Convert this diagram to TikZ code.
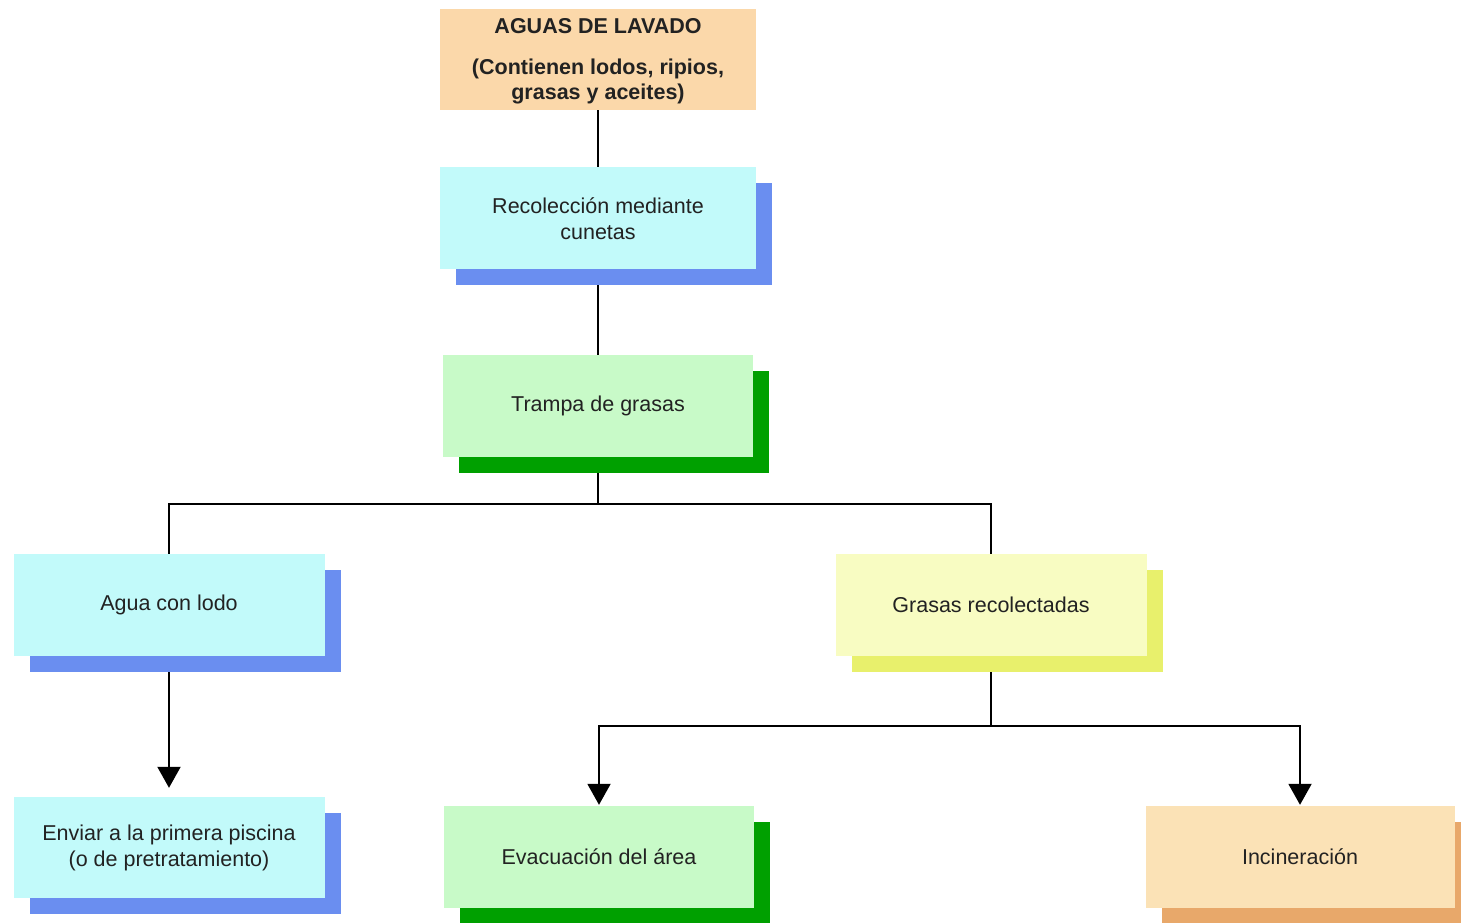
\documentclass[tikz,border=0pt]{standalone}
\usepackage{fontspec}
\setmainfont{Liberation Sans}
\usetikzlibrary{arrows.meta, positioning, shadows, backgrounds}
\definecolor{peach}{HTML}{FBD8AA}
\definecolor{cyanfill}{HTML}{C2FAFA}
\definecolor{blueshade}{HTML}{6A8EF0}
\definecolor{greenfill}{HTML}{C8FAC8}
\definecolor{greenshade}{HTML}{00A000}
\definecolor{yellowfill}{HTML}{F8FCC2}
\definecolor{yellowshade}{HTML}{E8F06C}
\definecolor{orangefill}{HTML}{FBE2B6}
\definecolor{orangeshade}{HTML}{E8A86A}
\definecolor{txt}{HTML}{222222}
\tikzset{
    box/.style={minimum width=311pt, minimum height=102pt, inner sep=0pt, align=center, text=txt, font=\fontsize{21.5}{26}\selectfont},
    shade/.style={drop shadow={shadow xshift=16pt, shadow yshift=-16pt, fill=#1, opacity=1}},
    cyanbox/.style={box, fill=cyanfill, shade=blueshade},
    greenbox/.style={box, fill=greenfill, shade=greenshade},
    yellowbox/.style={box, fill=yellowfill, shade=yellowshade},
    orangebox/.style={box, fill=orangefill, shade=orangeshade},
    line/.style={line width=2pt, black},
    arrow/.style={line, -{Triangle[length=21pt, width=23pt]}}
}
\begin{document}
\begin{tikzpicture}[x=1pt, y=-1pt]
    \useasboundingbox (0,0) rectangle (1461,923);
    \node [box, fill=peach, minimum width=316pt, minimum height=101pt, text depth=2pt, font=\fontsize{21.5}{25}\selectfont\bfseries] (aguas) at (598,59.5) {AGUAS DE LAVADO\\[16pt](Contienen lodos, ripios,\\grasas y aceites)};
    \node [cyanbox, minimum width=316pt, below=57pt of aguas] (recol) {Recolección mediante\\cunetas};
    \node [greenbox, minimum width=310pt, below=85pt of recol] (trampa) {Trampa de grasas};
    \node [cyanbox] (agua) at (169,605) {Agua con lodo};
    \node [yellowbox] (grasas) at (991,605) {Grasas recolectadas};
    \node [cyanbox, minimum height=101pt] (enviar) at (169,847.5) {Enviar a la primera piscina\\(o de pretratamiento)};
    \node [greenbox, minimum width=310pt] (evac) at (599,857) {Evacuación del área};
    \node [orangebox, minimum width=309pt] (incin) at (1300,857) {Incineración};
    \coordinate (split) at (598,504);
    \coordinate (fork) at (991,726);
    \begin{scope}[on background layer]
        \draw [line] (aguas) -- (recol);
        \draw [line] (recol) -- (trampa);
        \draw [line] (trampa) -- (split);
        \draw [line] (agua) |- (split) -| (grasas);
        \draw [arrow, shorten >=9pt] (agua) -- (enviar.north);
        \draw [line] (grasas) -- (fork);
        \draw [arrow, shorten >=1pt] (fork) -| (evac.north);
        \draw [arrow, shorten >=1pt] (fork) -| (incin.north);
    \end{scope}
\end{tikzpicture}
\end{document}
